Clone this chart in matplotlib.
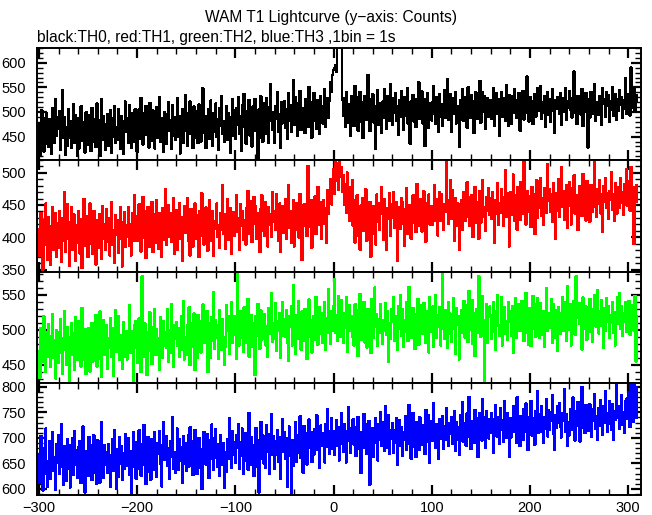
#!/usr/bin/env python3
"""WAM T1 lightcurve, four energy channels stacked"""
import numpy as np
import matplotlib.pyplot as plt
from matplotlib.ticker import MultipleLocator

plt.rcParams['font.family'] = ['Liberation Sans', 'DejaVu Sans']

# time of the first bin (s), 1 bin = 1 s
t_start = -300

# counts per 1 s bin (10 bins per row)
th0 = [
    478, 412, 441, 503, 455, 420, 488, 436, 497, 449,
    429, 485, 461, 415, 508, 472, 437, 526, 452, 490,
    466, 501, 423, 478, 544, 447, 489, 414, 470, 432,
    505, 448, 482, 427, 463, 516, 438, 493, 459, 411,
    487, 426, 470, 512, 441, 480, 453, 418, 499, 462,
    434, 494, 457, 421, 508, 475, 440, 485, 429, 517,
    451, 483, 410, 469, 527, 444, 492, 458, 423, 476,
    496, 431, 465, 503, 418, 487, 449, 512, 437, 470,
    443, 505, 478, 426, 492, 455, 415, 481, 521, 459,
    488, 437, 514, 462, 427, 498, 471, 440, 506, 452,
    419, 481, 505, 446, 529, 462, 434, 497, 475, 512,
    453, 490, 428, 518, 468, 441, 503, 480, 426, 495,
    510, 447, 476, 531, 439, 487, 458, 420, 500, 466,
    435, 496, 519, 461, 484, 425, 514, 452, 490, 443,
    478, 528, 449, 491, 416, 472, 506, 438, 483, 535,
    462, 431, 497, 470, 521, 455, 486, 427, 511, 448,
    502, 468, 437, 515, 479, 440, 496, 548, 457, 489,
    427, 492, 464, 505, 446, 523, 474, 431, 498, 460,
    517, 450, 486, 424, 508, 471, 533, 455, 481, 439,
    476, 512, 443, 497, 461, 418, 489, 526, 452, 503,
    445, 508, 473, 530, 456, 492, 421, 514, 484, 537,
    469, 436, 501, 478, 524, 452, 497, 430, 511, 483,
    526, 462, 489, 392, 505, 447, 532, 475, 440, 518,
    491, 455, 528, 470, 438, 509, 556, 481, 463, 500,
    437, 512, 486, 541, 459, 495, 428, 520, 477, 503,
    521, 468, 505, 446, 538, 482, 513, 459, 497, 565,
    474, 530, 491, 452, 517, 486, 543, 463, 508, 480,
    502, 457, 526, 494, 470, 551, 485, 519, 448, 510,
    539, 483, 499, 466, 524, 508, 455, 532, 491, 477,
    512, 546, 470, 503, 528, 489, 522, 560, 541, 575,
    585, 590, 596, 582, 655, 700, 690, 665, 640, 525,
    493, 528, 469, 541, 505, 478, 516, 452, 532, 488,
    514, 471, 553, 497, 530, 462, 509, 540, 481, 520,
    447, 506, 532, 484, 519, 575, 495, 461, 527, 501,
    536, 479, 512, 426, 498, 545, 473, 517, 490, 458,
    521, 489, 547, 502, 466, 533, 508, 483, 556, 495,
    474, 528, 499, 538, 482, 511, 453, 524, 491, 543,
    507, 464, 530, 492, 519, 548, 476, 505, 436, 522,
    498, 535, 481, 514, 469, 527, 501, 560, 486, 513,
    542, 477, 509, 431, 526, 495, 538, 468, 517, 504,
    483, 520, 552, 497, 475, 531, 509, 459, 536, 490,
    516, 471, 503, 544, 489, 522, 566, 484, 507, 537,
    460, 528, 496, 518, 541, 477, 512, 499, 430, 523,
    509, 546, 482, 530, 497, 519, 468, 550, 505, 488,
    535, 494, 521, 457, 511, 540, 486, 525, 503, 563,
    478, 517, 540, 501, 533, 465, 508, 529, 491, 514,
    524, 487, 506, 548, 472, 519, 538, 496, 527, 452,
    503, 541, 490, 516, 529, 483, 555, 508, 471, 534,
    519, 476, 532, 498, 546, 511, 488, 524, 500, 539,
    462, 527, 506, 543, 485, 518, 499, 572, 513, 481,
    530, 497, 521, 475, 509, 537, 490, 526, 548, 503,
    511, 553, 486, 520, 498, 532, 469, 515, 540, 494,
    527, 480, 512, 546, 503, 458, 524, 507, 531, 519,
    496, 538, 474, 515, 529, 501, 548, 484, 522, 509,
    543, 505, 528, 489, 517, 582, 498, 533, 476, 521,
    508, 532, 495, 546, 471, 524, 510, 539, 500, 428,
    526, 489, 541, 513, 530, 497, 556, 482, 519, 505,
    495, 533, 509, 474, 548, 516, 527, 491, 540, 512,
    534, 480, 522, 504, 551, 493, 519, 537, 485, 526,
    502, 545, 514, 531, 488, 523, 506, 568, 497, 529,
    518, 537, 493, 590, 509, 528, 546, 500, 535, 521,
]

th1 = [
    412, 371, 438, 395, 350, 426, 388, 452, 403, 365,
    431, 392, 357, 418, 446, 380, 409, 437, 369, 422,
    384, 441, 405, 362, 429, 395, 470, 378, 414, 451,
    398, 356, 423, 447, 381, 410, 435, 364, 419, 392,
    440, 402, 375, 428, 352, 416, 459, 387, 433, 400,
    369, 425, 452, 390, 413, 374, 441, 408, 358, 427,
    415, 383, 436, 405, 366, 448, 397, 421, 380, 444,
    393, 430, 372, 417, 455, 389, 411, 360, 434, 404,
    426, 376, 412, 446, 398, 355, 423, 439, 385, 418,
    401, 447, 387, 420, 372, 437, 406, 465, 394, 425,
    433, 395, 451, 410, 378, 425, 462, 399, 440, 368,
    412, 447, 385, 429, 403, 455, 377, 421, 436, 392,
    458, 406, 382, 438, 414, 369, 445, 423, 396, 475,
    388, 427, 450, 401, 437, 393, 419, 461, 375, 416,
    442, 380, 411, 453, 398, 431, 364, 426, 448, 407,
    419, 461, 395, 424, 372, 444, 410, 386, 435, 452,
    397, 434, 416, 370, 441, 403, 468, 420, 389, 429,
    446, 408, 379, 432, 457, 394, 423, 441, 371, 413,
    425, 452, 400, 418, 384, 437, 411, 480, 405, 436,
    382, 428, 459, 396, 421, 445, 374, 415, 439, 402,
    437, 465, 409, 430, 381, 451, 418, 440, 396, 426,
    414, 389, 446, 472, 405, 428, 456, 393, 434, 462,
    449, 420, 397, 438, 416, 377, 443, 465, 410, 431,
    402, 455, 428, 386, 447, 419, 436, 401, 470, 424,
    441, 412, 466, 430, 395, 452, 378, 425, 448, 407,
    423, 459, 398, 436, 481, 415, 440, 392, 431, 457,
    386, 430, 453, 411, 444, 399, 467, 426, 365, 435,
    451, 417, 439, 402, 510, 433, 416, 458, 384, 442,
    426, 463, 405, 447, 478, 419, 436, 455, 398, 441,
    458, 421, 445, 392, 473, 437, 462, 490, 451, 482,
    505, 468, 522, 487, 515, 474, 530, 493, 508, 470,
    496, 451, 482, 438, 500, 463, 425, 477, 445, 489,
    418, 457, 392, 440, 465, 403, 436, 381, 449, 426,
    461, 410, 428, 474, 395, 443, 417, 455, 370, 438,
    405, 448, 433, 389, 466, 424, 452, 411, 437, 478,
    442, 396, 459, 420, 381, 445, 429, 468, 402, 451,
    430, 470, 415, 439, 455, 364, 427, 446, 413, 461,
    454, 421, 387, 443, 476, 432, 405, 450, 426, 398,
    437, 465, 422, 448, 408, 482, 440, 417, 459, 431,
    409, 446, 471, 428, 393, 452, 435, 466, 420, 444,
    448, 419, 437, 480, 426, 459, 403, 440, 470, 425,
    466, 434, 412, 451, 439, 523, 445, 421, 458, 488,
    429, 473, 447, 395, 461, 436, 418, 452, 380, 443,
    457, 412, 438, 470, 426, 449, 485, 431, 462, 417,
    440, 465, 401, 446, 478, 423, 455, 436, 398, 471,
    423, 452, 488, 431, 447, 410, 462, 441, 476, 434,
    461, 428, 470, 449, 392, 457, 436, 483, 420, 452,
    438, 475, 446, 418, 462, 504, 431, 468, 447, 386,
    470, 435, 458, 497, 426, 465, 443, 412, 478, 451,
    427, 486, 449, 437, 521, 455, 420, 472, 439, 463,
    459, 416, 478, 444, 466, 405, 452, 488, 430, 471,
    445, 492, 433, 461, 419, 476, 450, 438, 513, 456,
    474, 439, 466, 424, 483, 452, 398, 469, 441, 490,
    431, 463, 508, 447, 472, 427, 458, 481, 415, 462,
    485, 448, 420, 476, 453, 496, 437, 465, 450, 411,
    443, 479, 462, 433, 498, 455, 471, 426, 487, 458,
    466, 424, 481, 457, 440, 470, 518, 447, 432, 475,
    452, 489, 437, 466, 408, 479, 455, 492, 446, 468,
    429, 472, 458, 501, 443, 467, 425, 484, 460, 437,
    478, 446, 492, 453, 470, 435, 482, 457, 505, 449,
    463, 487, 441, 509, 472, 456, 390, 478, 455, 481,
]

th2 = [
    470, 432, 503, 486, 455, 519, 478, 440, 496, 462,
    508, 474, 447, 491, 522, 460, 485, 431, 500, 478,
    453, 497, 515, 468, 437, 488, 527, 472, 450, 504,
    490, 426, 478, 509, 464, 495, 443, 518, 481, 457,
    512, 469, 492, 448, 531, 476, 458, 501, 437, 489,
    466, 503, 441, 484, 510, 455, 497, 473, 521, 448,
    495, 459, 526, 470, 433, 492, 514, 464, 486, 507,
    445, 488, 474, 516, 461, 502, 434, 480, 528, 469,
    483, 520, 457, 493, 476, 444, 511, 488, 462, 498,
    458, 479, 535, 467, 498, 481, 426, 507, 475, 513,
    492, 453, 516, 478, 440, 576, 488, 462, 509, 472,
    436, 497, 470, 525, 483, 451, 504, 479, 530, 464,
    501, 465, 488, 443, 518, 492, 460, 513, 477, 496,
    474, 529, 455, 499, 468, 537, 482, 447, 506, 487,
    511, 478, 502, 462, 493, 519, 471, 541, 458, 490,
    465, 506, 489, 532, 450, 484, 510, 476, 523, 443,
    497, 460, 521, 487, 513, 468, 499, 536, 481, 505,
    482, 527, 440, 509, 491, 460, 518, 485, 554, 473,
    514, 488, 506, 459, 528, 494, 471, 515, 489, 450,
    476, 535, 498, 520, 466, 507, 540, 482, 503, 519,
    493, 459, 580, 505, 478, 526, 488, 511, 469, 532,
    507, 481, 514, 544, 462, 498, 521, 476, 510, 487,
    436, 519, 492, 537, 503, 473, 528, 486, 515, 497,
    522, 478, 505, 461, 531, 494, 516, 552, 483, 509,
    487, 538, 470, 513, 499, 524, 460, 506, 540, 492,
    515, 490, 528, 482, 456, 519, 504, 533, 478, 563,
    499, 466, 521, 508, 541, 487, 512, 472, 526, 503,
    484, 530, 495, 459, 518, 543, 490, 514, 468, 507,
    520, 486, 547, 502, 479, 511, 532, 495, 524, 481,
    505, 539, 471, 516, 496, 558, 508, 480, 527, 498,
    534, 572, 496, 521, 485, 548, 513, 490, 542, 509,
    482, 524, 503, 547, 469, 511, 535, 498, 519, 490,
    516, 478, 536, 495, 528, 463, 507, 551, 486, 522,
    497, 540, 482, 513, 475, 530, 501, 518, 467, 544,
    523, 489, 560, 504, 522, 477, 515, 496, 536, 508,
    480, 514, 499, 538, 493, 527, 455, 510, 487, 529,
    511, 547, 485, 519, 506, 471, 533, 502, 550, 492,
    529, 476, 514, 497, 540, 508, 484, 561, 518, 503,
    488, 531, 509, 473, 522, 496, 544, 479, 512, 535,
    520, 494, 538, 506, 481, 527, 502, 468, 546, 511,
    497, 533, 476, 515, 549, 489, 521, 505, 532, 478,
    516, 580, 502, 487, 528, 510, 474, 539, 495, 523,
    483, 519, 545, 501, 466, 531, 507, 520, 458, 514,
    528, 496, 512, 541, 489, 517, 535, 483, 555, 500,
    507, 542, 480, 523, 463, 509, 530, 496, 576, 518,
    490, 525, 548, 502, 428, 514, 536, 481, 519, 533,
    521, 487, 510, 539, 497, 471, 527, 549, 506, 492,
    503, 546, 478, 518, 532, 495, 513, 486, 540, 511,
    526, 492, 534, 467, 509, 545, 488, 522, 501, 537,
    498, 515, 541, 506, 484, 527, 552, 496, 518, 479,
    531, 477, 519, 548, 502, 536, 490, 512, 545, 507,
    489, 538, 511, 493, 527, 476, 520, 559, 499, 524,
    515, 503, 543, 482, 536, 510, 488, 528, 470, 532,
    524, 494, 513, 547, 498, 519, 539, 484, 562, 506,
    500, 536, 478, 525, 510, 541, 493, 576, 517, 529,
    538, 508, 521, 472, 546, 501, 514, 533, 486, 520,
    511, 544, 497, 529, 483, 517, 550, 505, 534, 556,
    495, 527, 506, 542, 518, 474, 531, 499, 545, 512,
    533, 488, 521, 510, 539, 496, 525, 478, 516, 547,
    509, 552, 502, 534, 491, 523, 512, 540, 497, 530,
    516, 541, 493, 527, 508, 535, 499, 548, 455, 520,
]

th3 = [
    668, 612, 704, 641, 597, 680, 630, 718, 655, 604,
    647, 693, 620, 675, 712, 636, 662, 599, 688, 651,
    706, 629, 671, 726, 644, 608, 683, 657, 615, 697,
    639, 685, 603, 659, 700, 627, 714, 648, 676, 622,
    681, 633, 694, 611, 667, 722, 640, 593, 673, 656,
    625, 702, 658, 685, 618, 649, 705, 632, 690, 610,
    695, 645, 612, 677, 731, 663, 621, 686, 647, 672,
    631, 688, 666, 604, 659, 697, 636, 716, 658, 601,
    678, 624, 701, 650, 683, 617, 669, 640, 708, 661,
    646, 699, 628, 674, 592, 664, 711, 643, 679, 620,
    692, 640, 715, 661, 626, 687, 648, 725, 670, 609,
    655, 702, 633, 683, 618, 697, 662, 637, 711, 676,
    624, 690, 668, 713, 649, 605, 686, 730, 657, 694,
    703, 645, 679, 620, 694, 662, 741, 639, 672, 631,
    667, 718, 638, 697, 655, 681, 612, 704, 650, 689,
    636, 676, 706, 644, 721, 663, 693, 627, 684, 716,
    690, 629, 657, 699, 641, 678, 600, 668, 712, 654,
    648, 708, 682, 621, 695, 659, 726, 675, 637, 699,
    717, 661, 643, 688, 625, 705, 670, 647, 690, 602,
    672, 634, 697, 659, 739, 683, 641, 714, 666, 692,
    651, 706, 680, 727, 640, 691, 664, 718, 629, 697,
    710, 656, 692, 638, 749, 674, 702, 647, 686, 625,
    668, 719, 643, 696, 593, 684, 731, 659, 705, 650,
    697, 641, 725, 672, 708, 630, 688, 746, 667, 704,
    639, 693, 667, 715, 654, 701, 620, 686, 736, 673,
    712, 658, 699, 604, 681, 722, 664, 591, 696, 645,
    678, 731, 653, 706, 670, 689, 742, 660, 698, 632,
    723, 674, 709, 648, 695, 736, 680, 712, 653, 701,
    667, 717, 690, 744, 676, 703, 641, 724, 685, 710,
    698, 652, 726, 683, 757, 694, 669, 713, 738, 679,
    714, 667, 702, 735, 684, 721, 656, 698, 749, 688,
    673, 726, 691, 652, 713, 760, 695, 670, 719, 703,
    736, 687, 720, 664, 705, 741, 678, 712, 631, 694,
    681, 747, 698, 727, 669, 708, 733, 608, 715, 676,
    719, 662, 704, 738, 690, 656, 726, 697, 751, 684,
    693, 730, 675, 762, 709, 681, 744, 668, 716, 699,
    728, 671, 715, 690, 739, 647, 707, 734, 685, 721,
    664, 712, 696, 743, 677, 723, 688, 765, 702, 659,
    709, 749, 683, 720, 662, 731, 698, 676, 740, 705,
    687, 725, 701, 668, 755, 692, 718, 744, 651, 716,
    732, 695, 768, 711, 680, 726, 703, 659, 737, 698,
    702, 743, 679, 722, 696, 758, 713, 684, 729, 707,
    740, 688, 718, 753, 674, 731, 697, 721, 666, 745,
    711, 770, 693, 729, 708, 685, 748, 716, 780, 701,
    678, 733, 719, 690, 754, 712, 739, 662, 725, 748,
    727, 695, 776, 714, 740, 681, 752, 722, 699, 736,
    709, 748, 725, 670, 737, 764, 703, 741, 716, 688,
    758, 715, 734, 692, 771, 728, 700, 749, 720, 663,
    739, 701, 727, 762, 711, 745, 690, 780, 730, 707,
    684, 743, 718, 696, 756, 732, 767, 712, 676, 741,
    726, 772, 705, 738, 719, 687, 753, 729, 791, 710,
    747, 712, 763, 727, 690, 741, 718, 775, 703, 755,
    716, 751, 734, 783, 708, 677, 744, 720, 762, 729,
    768, 722, 701, 748, 733, 795, 712, 746, 684, 731,
    705, 757, 738, 716, 779, 726, 695, 752, 724, 770,
    741, 693, 760, 800, 719, 747, 710, 765, 728, 752,
    714, 766, 725, 702, 756, 733, 786, 717, 743, 696,
    759, 723, 774, 739, 706, 762, 729, 792, 748, 712,
    728, 771, 744, 715, 766, 697, 753, 735, 805, 740,
    763, 718, 755, 784, 726, 750, 709, 772, 737, 778,
    744, 790, 721, 815, 757, 731, 810, 766, 739, 800,
]

channels = [th0, th1, th2, th3]
colors = ["black", "#ff0000", "#00ff00", "#0000ff"]
ylims = [(403, 630), (347, 520), (424, 583), (588, 807)]

fig = plt.figure(figsize=(6.52, 5.15), dpi=100)
axes = fig.subplots(4, 1, sharex=True, gridspec_kw=dict(hspace=0))
fig.subplots_adjust(left=0.0567, right=0.983, top=0.9068, bottom=0.0388)

for ax, counts, c, yl in zip(axes, channels, colors, ylims):
    t = np.arange(t_start, t_start + len(counts))
    # crisp, non-antialiased steps like the original plot
    ax.plot(t, counts, drawstyle="steps-mid", color=c, lw=1.0,
            antialiased=False)
    ax.set_xlim(-302, 313)
    ax.set_ylim(*yl)
    ax.xaxis.set_major_locator(MultipleLocator(100))
    ax.xaxis.set_minor_locator(MultipleLocator(20))
    ax.yaxis.set_major_locator(MultipleLocator(50))
    ax.yaxis.set_minor_locator(MultipleLocator(10))
    ax.tick_params(which="both", direction="in", top=True, right=True,
                   labelsize=10.5, color="black")
    ax.tick_params(which="major", length=7, width=1.6)
    ax.tick_params(which="minor", length=4, width=1.0)
    ax.tick_params(axis="y", pad=8)
    ax.tick_params(axis="x", pad=4)
    for sp in ax.spines.values():
        sp.set_linewidth(1.4)

fig.text(0.508, 0.966, "WAM T1 Lightcurve (y\u2212axis: Counts)",
         ha="center", va="center", fontsize=11.2)
fig.text(0.057, 0.927, "black:TH0, red:TH1, green:TH2, blue:TH3 ,1bin = 1s",
         ha="left", va="center", fontsize=11.2)

plt.savefig("out.png", dpi=100)
